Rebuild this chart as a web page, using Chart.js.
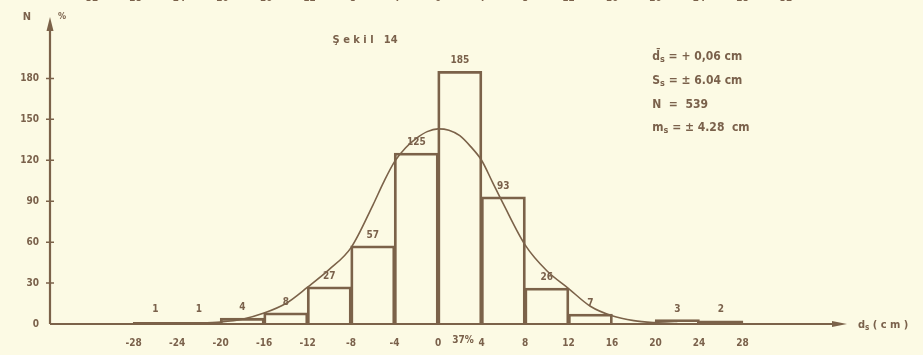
<!DOCTYPE html>
<html>
<head>
<meta charset="utf-8">
<title>Şekil 14</title>
<script src="https://cdn.jsdelivr.net/npm/chart.js@4.4.1/dist/chart.umd.min.js"></script>
<style>
  html, body { margin: 0; padding: 0; background: #fcfae4; }
  #wrap { width: 923px; height: 355px; }
</style>
</head>
<body>
<div id="wrap"><canvas id="hist" width="923" height="355"></canvas></div>
<script>
'use strict';

// class centres (cm) and counts, class width 4 cm
const binCenters = [-26, -22, -18, -14, -10, -6, -2, 2, 6, 10, 14, 18, 22, 26];
const counts = [1, 1, 4, 8, 27, 57, 125, 185, 93, 26, 7, 0, 3, 2];

const curveX = [-28, -26, -24, -22, -20, -18, -16, -14, -12, -10, -8, -6, -5, -4, -3, -2, -1, 0, 1, 2, 3, 4, 5, 6, 8, 10, 12, 14, 16, 18, 20, 22];
const curveY = [0.3, 0.3, 0.4, 0.7, 1.5, 3.5, 8, 15, 27, 40, 56, 87, 104, 119, 129, 136, 141, 143, 142, 138, 130, 120, 104, 88, 58, 39, 26, 13, 6, 2.5, 1, 0.3];

const yTicks = [0, 30, 60, 90, 120, 150, 180];
const xTicks = [-28, -24, -20, -16, -12, -8, -4, 0, 4, 8, 12, 16, 20, 24, 28];
// tick row of the figure printed above (only its lower edge shows)
const prevTicks = [-32, -28, -24, -20, -16, -12, -8, -4, 0, 4, 8, 12, 16, 20, 24, 28, 32];

const title = 'Ş e k i l   14';
const stats = [
  ['d\u0304', 's', ' = + 0,06 cm'],
  ['S', 's', ' = ± 6.04 cm'],
  ['N', '', '  =  539'],
  ['m', 's', ' = ± 4.28  cm']
];

const INK = '#7b6249';
const TXT = '#7a614b';
const FONT = '"Liberation Sans Narrow", "DejaVu Sans Condensed", "Arial Narrow", sans-serif';

function fnt(size) {
  return 'bold ' + size + 'px ' + FONT;
}

// text with an optional subscript part
function subText(ctx, x, y, main, sub, rest, size) {
  ctx.font = fnt(size);
  ctx.fillText(main, x, y);
  x += ctx.measureText(main).width;
  if (sub) {
    ctx.font = fnt(size - 3);
    ctx.fillText(sub, x, y + 3);
    x += ctx.measureText(sub).width;
  }
  ctx.font = fnt(size);
  ctx.fillText(rest, x, y);
}

const sketch = {
  id: 'sketch',
  afterDraw: function (chart) {
    const ctx = chart.ctx;
    const area = chart.chartArea;
    const xs = chart.scales.x;
    const ys = chart.scales.y;
    ctx.save();

    // axes with arrow heads
    ctx.strokeStyle = INK;
    ctx.fillStyle = INK;
    ctx.lineWidth = 2.2;
    ctx.beginPath();
    ctx.moveTo(area.left, area.bottom);
    ctx.lineTo(area.right - 10, area.bottom);
    ctx.moveTo(area.left, area.bottom);
    ctx.lineTo(area.left, area.top + 10);
    ctx.stroke();
    ctx.beginPath();
    ctx.moveTo(area.right, area.bottom);
    ctx.lineTo(area.right - 15, area.bottom - 3);
    ctx.lineTo(area.right - 15, area.bottom + 3);
    ctx.closePath();
    ctx.fill();
    ctx.beginPath();
    ctx.moveTo(area.left, area.top);
    ctx.lineTo(area.left - 3.5, area.top + 14);
    ctx.lineTo(area.left + 3.5, area.top + 14);
    ctx.closePath();
    ctx.fill();

    // cross ticks on the y axis
    ctx.lineWidth = 1.5;
    ctx.beginPath();
    yTicks.slice(1).forEach(function (v) {
      const y = ys.getPixelForValue(v);
      ctx.moveTo(area.left - 4, y);
      ctx.lineTo(area.left + 4, y);
    });
    ctx.stroke();

    // counts above the bars
    ctx.fillStyle = TXT;
    ctx.textAlign = 'center';
    ctx.textBaseline = 'middle';
    ctx.font = fnt(10);
    chart.getDatasetMeta(0).data.forEach(function (bar, i) {
      if (!counts[i]) return;
      ctx.fillText(String(counts[i]), bar.x, Math.min(bar.y, area.bottom - 4) - 11);
    });

    // axis names
    ctx.font = fnt(11);
    ctx.fillText('N', area.left - 23, 17);
    ctx.textAlign = 'left';
    ctx.font = fnt(9);
    ctx.fillText('%', area.left + 8, 17);
    subText(ctx, area.right + 11, area.bottom + 1, 'd', 's', ' ( c m )', 11);

    // figure caption
    ctx.font = fnt(11);
    ctx.fillText(title, xs.getPixelForValue(-9.7), 40);

    // statistics block
    stats.forEach(function (row, i) {
      subText(ctx, xs.getPixelForValue(19.7), 57 + i * 23.7, row[0], row[1], row[2], 12);
    });

    // neighbouring figures, cut by the page edge
    ctx.textAlign = 'center';
    ctx.font = fnt(10);
    prevTicks.forEach(function (v) {
      ctx.fillText(String(v), xs.getPixelForValue(v), -2);
    });
    ctx.fillText('37%', xs.getPixelForValue(2.3), area.bottom + 16);

    ctx.restore();
  }
};

const ctx = document.getElementById('hist').getContext('2d');
new Chart(ctx, {
  type: 'bar',
  data: {
    datasets: [
      {
        type: 'bar',
        data: binCenters.map(function (c, i) { return { x: c, y: counts[i] }; }),
        backgroundColor: 'rgba(0,0,0,0)',
        borderColor: INK,
        borderWidth: 1.4,
        borderSkipped: 'bottom',
        inflateAmount: 0.7,
        barPercentage: 1,
        categoryPercentage: 1,
        order: 2
      },
      {
        type: 'line',
        data: curveX.map(function (x, i) { return { x: x, y: curveY[i] }; }),
        borderColor: INK,
        borderWidth: 1.6,
        pointRadius: 0,
        fill: false,
        cubicInterpolationMode: 'monotone',
        order: 1
      }
    ]
  },
  options: {
    responsive: false,
    animation: false,
    layout: {
      padding: { top: 3, right: 76, left: 0, bottom: 0 }
    },
    plugins: {
      legend: { display: false },
      tooltip: { enabled: false }
    },
    scales: {
      x: {
        type: 'linear',
        min: -35.68,
        max: 37.6,
        offset: false,
        grid: { display: false, drawTicks: false },
        border: { display: false },
        afterBuildTicks: function (scale) {
          scale.ticks = xTicks.map(function (v) { return { value: v }; });
        },
        afterFit: function (scale) {
          scale.height = 31;
        },
        ticks: {
          autoSkip: false,
          maxRotation: 0,
          padding: 13,
          color: TXT,
          font: { family: FONT, size: 10, weight: 'bold' },
          callback: function (v) { return String(v); }
        }
      },
      y: {
        min: 0,
        max: 225,
        grid: { display: false, drawTicks: false },
        border: { display: false },
        afterBuildTicks: function (scale) {
          scale.ticks = yTicks.map(function (v) { return { value: v }; });
        },
        afterFit: function (scale) {
          scale.width = 50;
        },
        ticks: {
          padding: 11,
          color: TXT,
          font: { family: FONT, size: 10, weight: 'bold' }
        }
      }
    }
  },
  plugins: [sketch]
});
</script>
</body>
</html>
